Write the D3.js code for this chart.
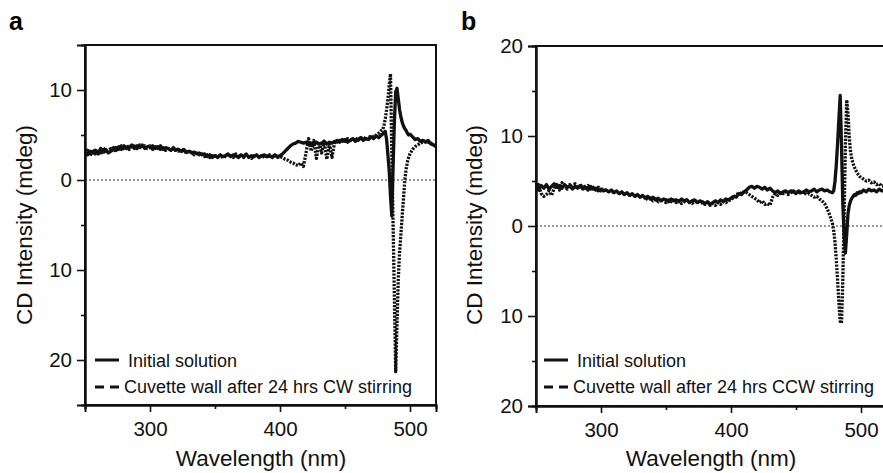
<!DOCTYPE html>
<html>
<head>
<meta charset="utf-8">
<script src="https://cdn.jsdelivr.net/npm/d3@7"></script>
<style>
  html, body { margin: 0; padding: 0; background: #fff; }
  svg { display: block; font-family: "Liberation Sans", Arial, Helvetica, sans-serif; }
</style>
</head>
<body>
<svg id="fig" width="883" height="473"></svg>
<script>
// Sampling grid of the CD spectra (nm); finer steps across the exciton couplet
const wavelength = [
  250,252,254,256,258,260,262,264,266,268,270,272,274,276,278,280,282,284,286,288,
  290,292,294,296,298,300,302,304,306,308,310,312,314,316,318,320,322,324,326,328,
  330,332,334,336,338,340,342,344,346,348,350,352,354,356,358,360,362,364,366,368,
  370,372,374,376,378,380,382,384,386,388,390,392,394,396,398,400,402,404,406,408,
  410,412,414,416,418,420,422,424,426,428,430,432,434,436,438,440,442,444,446,448,
  450,452,454,456,458,460,462,464,466,468,470,472,474,476,478,
  479,480,481,482,483,484,485,486,487,488,489,490,491,492,493,494,495,496,497,498,499,500,
  502,504,506,508,510,512,514,516,518,520
];

// Panel a: initial solution
const cdInitialA = [
  3.1,2.8,3.2,3.0,3.3,2.9,3.5,3.1,3.4,3.0,3.2,3.6,3.3,3.7,3.4,3.8,3.5,3.6,3.9,3.5,
  3.8,3.6,3.9,3.5,3.7,3.8,3.4,3.7,3.5,3.8,3.4,3.6,3.5,3.3,3.6,3.3,3.4,3.2,3.4,3.1,
  3.2,3.0,3.1,2.9,3.0,2.8,2.9,2.6,2.8,2.5,2.7,2.5,2.8,2.6,2.7,2.9,2.6,2.8,2.7,2.5,
  2.8,2.6,2.9,2.5,2.7,2.6,2.8,2.5,2.7,2.8,2.6,2.7,2.5,2.8,2.6,2.7,2.9,3.2,3.5,3.8,
  4.0,4.1,4.3,4.2,4.1,4.2,4.0,4.1,3.9,4.2,4.0,4.1,4.3,4.0,4.2,4.1,4.3,4.2,4.4,4.3,
  4.5,4.2,4.4,4.6,4.3,4.5,4.7,4.4,4.6,4.5,4.8,4.6,4.9,4.7,5.0,
  5.1,5.3,5.4,4.5,2.8,1.0,-1.8,-4.0,1.5,6.5,9.8,10.2,9.0,7.8,7.0,6.4,6.0,5.7,5.5,5.2,5.0,5.1,
  4.8,4.5,4.6,4.3,4.4,4.2,4.4,4.0,3.9,3.7
];

// Panel a: cuvette wall after 24 hrs CW stirring
const cdWallCW = [
  2.9,3.3,2.7,3.4,2.9,3.2,2.8,3.6,3.0,3.3,3.5,3.1,3.6,3.4,3.8,3.5,3.9,3.4,3.7,3.8,
  3.5,3.9,3.6,3.8,3.5,3.6,3.8,3.5,3.7,3.4,3.6,3.3,3.5,3.4,3.2,3.5,3.2,3.3,3.0,3.2,
  3.0,3.1,2.8,3.0,2.8,2.9,2.6,2.8,2.5,2.7,2.6,2.8,2.5,2.7,2.6,2.8,2.7,2.5,2.9,2.6,
  2.7,2.5,2.8,2.6,2.4,2.7,2.6,2.8,2.5,2.7,2.6,2.8,2.6,2.7,2.5,2.6,2.5,2.3,2.2,2.0,
  1.9,1.7,1.6,1.9,1.5,3.0,4.6,3.2,4.4,2.4,4.2,3.0,4.3,2.3,4.0,2.5,4.2,4.4,4.2,4.5,
  4.3,4.6,4.4,4.5,4.7,4.4,4.6,4.8,4.5,4.7,4.9,4.8,5.0,5.2,5.5,
  5.6,6.1,6.8,7.8,9.0,10.6,11.8,3.0,-5.0,-13.0,-21.3,-16.0,-11.0,-8.0,-6.0,-4.0,-2.0,0.0,1.2,2.0,2.5,2.9,
  3.4,3.7,3.9,4.1,4.2,4.3,4.2,4.1,3.9,3.8
];

// Panel b: initial solution
const cdInitialB = [
  4.4,4.0,4.5,4.2,4.6,4.1,4.4,4.7,4.3,4.5,4.2,4.6,4.3,4.5,4.1,4.4,4.2,4.5,4.1,4.3,
  4.0,4.4,4.1,4.2,3.9,4.1,3.9,4.0,3.8,4.0,3.7,3.9,3.6,3.8,3.5,3.7,3.4,3.6,3.3,3.5,
  3.2,3.4,3.1,3.3,3.0,3.2,2.9,3.1,2.8,3.0,2.9,2.7,3.0,2.8,2.9,2.7,3.0,2.8,2.9,2.6,
  2.8,2.9,2.6,2.8,2.7,2.5,2.7,2.4,2.6,2.8,2.6,2.9,2.7,3.0,2.9,3.1,3.3,3.2,3.6,3.5,
  3.8,4.0,4.3,4.4,4.2,4.4,4.3,4.1,4.3,4.0,4.2,3.9,3.7,3.9,3.6,3.8,3.9,3.7,3.9,3.8,
  3.6,3.9,3.7,3.8,4.0,3.8,3.9,4.1,3.8,4.0,4.1,3.9,4.0,3.8,3.7,
  3.9,5.0,6.8,9.2,11.9,14.5,9.0,2.5,-1.0,-3.0,-1.0,1.4,2.3,2.8,3.1,3.3,3.5,3.4,3.7,3.6,3.8,3.7,
  4.0,3.8,4.1,3.9,4.0,3.8,4.1,3.9,4.0,3.8
];

// Panel b: cuvette wall after 24 hrs CCW stirring
const cdWallCCW = [
  4.1,4.6,3.6,3.3,3.5,3.9,3.4,4.2,4.6,4.0,4.8,4.4,4.1,4.6,4.3,4.7,4.2,4.4,4.6,4.2,
  4.5,4.1,4.3,4.0,4.3,3.9,4.2,3.8,4.0,3.7,3.9,3.6,3.8,3.5,3.7,3.4,3.6,3.3,3.5,3.2,
  3.4,3.1,3.2,2.9,3.1,2.8,3.0,2.7,3.0,2.8,2.6,2.9,2.7,2.9,2.6,2.8,2.5,2.7,2.9,2.7,
  2.5,2.7,2.8,2.5,2.6,2.4,2.6,2.3,2.5,2.3,2.6,2.4,2.7,2.6,2.8,2.9,3.2,3.4,3.7,3.6,
  3.8,3.7,3.5,3.3,3.1,2.9,2.6,2.8,2.4,2.5,2.3,3.2,3.6,3.4,3.7,3.6,3.8,3.5,3.7,3.9,
  3.7,3.8,3.6,3.8,3.5,3.6,3.4,3.2,3.3,3.0,2.8,2.5,1.9,1.2,0.3,
  -0.5,-1.8,-3.8,-6.0,-8.5,-10.6,-10.8,-6.0,1.0,9.0,14.0,12.5,9.8,8.2,7.4,6.9,6.5,6.2,5.9,5.7,5.5,5.4,
  5.2,5.0,5.1,4.8,4.9,4.6,4.7,4.4,4.5,4.3
];

// Axis ticks
const xMajorTicks = [300, 400, 500];
const xMinorTicks = [250, 350, 450];
const yMajorTicksA = [10, 0, -10, -20];
const yMinorTicksA = [5, -5, -15];
const yMajorTicksB = [20, 10, 0, -10, -20];
const yMinorTicksB = [15, 5, -5, -15];

const legendLabels = ["Initial solution"];
const wallLabelA = "Cuvette wall after 24 hrs CW stirring";
const wallLabelB = "Cuvette wall after 24 hrs CCW stirring";

const svg = d3.select("#fig");

function drawPanel(opt) {
  const g = svg.append("g");
  const x = d3.scaleLinear().domain([250, 520]).range([opt.left, opt.left + 351]);
  const y = d3.scaleLinear().domain(opt.yDomain).range([opt.bottom, opt.top]);

  // Panel letter
  g.append("text").attr("x", opt.letterX).attr("y", 30)
    .attr("font-size", 25).attr("font-weight", "bold").text(opt.letter);

  // Frame
  g.append("rect")
    .attr("x", opt.left).attr("y", opt.top)
    .attr("width", 351).attr("height", opt.bottom - opt.top)
    .attr("fill", "none").attr("stroke", "#111").attr("stroke-width", 2);

  // Zero reference
  g.append("line")
    .attr("x1", x(250)).attr("x2", x(520)).attr("y1", y(0)).attr("y2", y(0))
    .attr("stroke", "#333").attr("stroke-width", 1).attr("stroke-dasharray", "2,2");

  // Y axis (magnitudes shown)
  g.append("g").attr("transform", `translate(${opt.left},0)`)
    .call(d3.axisLeft(y).tickValues(opt.yMajor).tickSize(8).tickPadding(5)
      .tickFormat(d => Math.abs(d)));
  g.append("g").attr("transform", `translate(${opt.left},0)`)
    .call(d3.axisLeft(y).tickValues(opt.yMinor).tickSize(4).tickFormat(""));

  // X axis
  g.append("g").attr("transform", `translate(0,${opt.bottom})`)
    .call(d3.axisBottom(x).tickValues(xMajorTicks).tickSize(7).tickPadding(9));
  g.append("g").attr("transform", `translate(0,${opt.bottom})`)
    .call(d3.axisBottom(x).tickValues(xMinorTicks).tickSize(4).tickFormat(""));

  g.selectAll(".domain").attr("stroke", "#111").attr("stroke-width", 2);
  g.selectAll(".tick line").attr("stroke", "#111").attr("stroke-width", 1.6);
  g.selectAll(".tick text").attr("font-size", 20.5).attr("fill", "#111")
    .attr("font-family", "'Liberation Sans', Arial, sans-serif");

  // Axis titles
  g.append("text")
    .attr("transform", `translate(${opt.yTitleX},225) rotate(-90)`)
    .attr("text-anchor", "middle").attr("font-size", 22.5).attr("fill", "#111")
    .text("CD Intensity (mdeg)");
  g.append("text")
    .attr("x", opt.xTitleX).attr("y", 466)
    .attr("text-anchor", "middle").attr("font-size", 22.5).attr("fill", "#111")
    .text("Wavelength (nm)");

  // Spectra
  const line = d3.line()
    .x((d, i) => x(wavelength[i]))
    .y(d => y(d));

  const clipId = "clip-" + opt.letter;
  g.append("clipPath").attr("id", clipId).append("rect")
    .attr("x", opt.left).attr("y", opt.top)
    .attr("width", 351).attr("height", opt.bottom - opt.top);

  const plot = g.append("g").attr("clip-path", `url(#${clipId})`);
  plot.append("path").datum(opt.initial)
    .attr("d", line).attr("fill", "none").attr("stroke", "#111")
    .attr("stroke-width", 3.3).attr("stroke-linejoin", "round");
  plot.append("path").datum(opt.wall)
    .attr("d", line).attr("fill", "none").attr("stroke", "#111")
    .attr("stroke-width", 3.3).attr("stroke-dasharray", "2.2,1.3")
    .attr("stroke-linejoin", "round");

  // Legend
  const lx = opt.legendX;
  g.append("line").attr("x1", lx).attr("x2", lx + 24).attr("y1", 360).attr("y2", 360)
    .attr("stroke", "#111").attr("stroke-width", 3);
  g.append("text").attr("x", lx + 33).attr("y", 367)
    .attr("font-size", 18).attr("fill", "#111").text(legendLabels[0]);
  g.append("line").attr("x1", lx).attr("x2", lx + 24).attr("y1", 387).attr("y2", 387)
    .attr("stroke", "#111").attr("stroke-width", 3).attr("stroke-dasharray", "9,6");
  g.append("text").attr("x", lx + 29).attr("y", 393)
    .attr("font-size", 18).attr("fill", "#111").text(opt.wallLabel);
}

drawPanel({
  letter: "a", letterX: 9, left: 85, top: 45, bottom: 405,
  yDomain: [-25, 15], yMajor: yMajorTicksA, yMinor: yMinorTicksA,
  yTitleX: 32, xTitleX: 261, legendX: 95,
  initial: cdInitialA, wall: cdWallCW, wallLabel: wallLabelA
});

drawPanel({
  letter: "b", letterX: 461, left: 536, top: 46, bottom: 406,
  yDomain: [-20, 20], yMajor: yMajorTicksB, yMinor: yMinorTicksB,
  yTitleX: 482, xTitleX: 711, legendX: 544,
  initial: cdInitialB, wall: cdWallCCW, wallLabel: wallLabelB
});
</script>
</body>
</html>
